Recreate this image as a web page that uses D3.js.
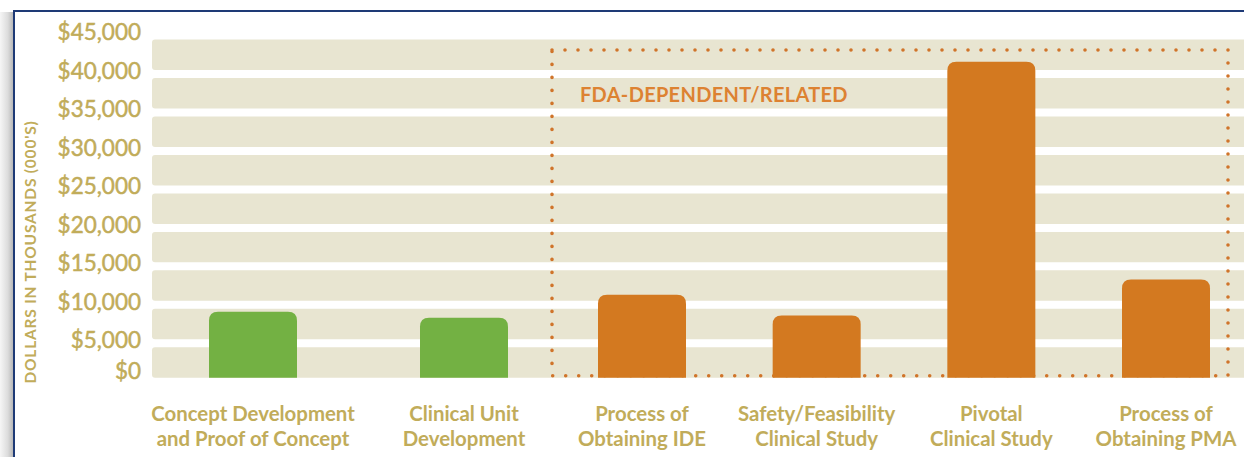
<!DOCTYPE html>
<html>
<head>
<meta charset="utf-8">
<script src="https://cdn.jsdelivr.net/npm/d3@7"></script>
<style>
  body { margin: 0; background: #fff; }
  svg { display: block; font-family: Lato, "Noto Sans", sans-serif; }
</style>
</head>
<body>
<div id="chart"></div>
<script>
// ---- data ----
const categories = [
  "Concept Development and Proof of Concept",
  "Clinical Unit Development",
  "Process of Obtaining IDE",
  "Safety/Feasibility Clinical Study",
  "Pivotal Clinical Study",
  "Process of Obtaining PMA"
];
const labelLines = [
  ["Concept Development", "and Proof of Concept"],
  ["Clinical Unit", "Development"],
  ["Process of", "Obtaining IDE"],
  ["Safety/Feasibility", "Clinical Study"],
  ["Pivotal", "Clinical Study"],
  ["Process of", "Obtaining PMA"]
];
// dollars in thousands
const costs = [9100, 8300, 11300, 8600, 41600, 13300];
const fdaRelated = [false, false, true, true, true, true];
const yTicks = [0, 5000, 10000, 15000, 20000, 25000, 30000, 35000, 40000, 45000];
const yTitle = "DOLLARS IN THOUSANDS (000'S)";
const boxLabel = "FDA-DEPENDENT/RELATED";

// ---- colours ----
const gold = "#C1AC5A";
const bandColor = "#E8E5D1";
const green = "#73B143";
const orange = "#D37920";
const dotColor = "#D0742A";
const navy = "#1E3A76";

const W = 1244, H = 457;

const svg = d3.select("#chart").append("svg")
  .attr("width", W)
  .attr("height", H);

// frame shadow + border
const defs = svg.append("defs");
const grad = defs.append("linearGradient").attr("id", "shadow");
grad.append("stop").attr("offset", "0%").attr("stop-color", "#f6f6f6");
grad.append("stop").attr("offset", "60%").attr("stop-color", "#dcdcdc");
grad.append("stop").attr("offset", "100%").attr("stop-color", "#b8b8b8");
svg.append("rect")
  .attr("x", 0).attr("y", 12).attr("width", 13).attr("height", H - 12)
  .attr("fill", "url(#shadow)");
svg.append("path")
  .attr("d", `M14,${H} V11 H${W}`)
  .attr("fill", "none")
  .attr("stroke", navy)
  .attr("stroke-width", 2);

// scales
const y = d3.scaleLinear().domain([0, 45000]).range([381.7, 35.6]);
const preCats = categories.filter((c, i) => !fdaRelated[i]);
const fdaCats = categories.filter((c, i) => fdaRelated[i]);
const xPre = d3.scalePoint().domain(preCats).range([253, 464]);
const xFda = d3.scalePoint().domain(fdaCats).range([642, 1166]);
const xPos = (c) => (preCats.includes(c) ? xPre(c) : xFda(c));
const barW = 88;
const baseY = y(0) - 4;

// background bands
const bands = d3.range(yTicks.length - 1);
svg.append("g").selectAll("rect")
  .data(bands)
  .join("rect")
  .attr("x", 152)
  .attr("width", W)
  .attr("y", (k) => y(yTicks[k + 1]) + 4)
  .attr("height", (k) => y(yTicks[k]) - y(yTicks[k + 1]) - 8)
  .attr("rx", 3)
  .attr("fill", bandColor);

// y tick labels
svg.append("g").selectAll("text")
  .data(yTicks)
  .join("text")
  .attr("x", 141)
  .attr("y", (d) => Math.min(y(d) - 3, 371))
  .attr("dy", "0.35em")
  .attr("text-anchor", "end")
  .attr("font-size", 22.5)
  .attr("fill", gold)
  .attr("stroke", gold)
  .attr("stroke-width", 0.5)
  .text(d3.format("$,"));

// y title
svg.append("text")
  .attr("transform", "translate(36,252) rotate(-90)")
  .attr("text-anchor", "middle")
  .attr("font-size", 15.5)
  .attr("font-weight", "bold")
  .attr("letter-spacing", 0.8)
  .attr("fill", gold)
  .text(yTitle);

// dotted FDA box
const box = { x0: xFda.range()[0] - 90, x1: xFda.range()[1] + 62, y0: 50, y1: baseY - 2 };
svg.append("path")
  .attr("d", `M${box.x0},${box.y0} H${box.x1} V${box.y1} H${box.x0} Z`)
  .attr("fill", "none")
  .attr("stroke", dotColor)
  .attr("stroke-width", 3.6)
  .attr("stroke-linecap", "round")
  .attr("stroke-dasharray", "0 13");

svg.append("text")
  .attr("x", box.x0 + 28)
  .attr("y", 101.5)
  .attr("font-size", 20)
  .attr("font-weight", "bold")
  .attr("letter-spacing", 0.3)
  .attr("fill", "#DD8232")
  .text(boxLabel);

// bars with rounded tops
const r = 9;
function barPath(c, v) {
  const x0 = xPos(c) - barW / 2, x1 = xPos(c) + barW / 2, yt = y(v);
  return `M${x0},${baseY} V${yt + r} Q${x0},${yt} ${x0 + r},${yt} H${x1 - r} Q${x1},${yt} ${x1},${yt + r} V${baseY} Z`;
}
svg.append("g").selectAll("path")
  .data(categories)
  .join("path")
  .attr("d", (c, i) => barPath(c, costs[i]))
  .attr("fill", (c, i) => (fdaRelated[i] ? orange : green));

// category labels
const labels = svg.append("g").selectAll("text")
  .data(categories)
  .join("text")
  .attr("x", (c) => xPos(c))
  .attr("y", 420.5)
  .attr("text-anchor", "middle")
  .attr("font-size", 20.4)
  .attr("font-weight", "bold")
  .attr("fill", gold);
labels.selectAll("tspan")
  .data((c, i) => labelLines[i])
  .join("tspan")
  .attr("x", function () { return this.parentNode.getAttribute("x"); })
  .attr("dy", (d, j) => (j === 0 ? 0 : 25.5))
  .text((d) => d);
</script>
</body>
</html>
